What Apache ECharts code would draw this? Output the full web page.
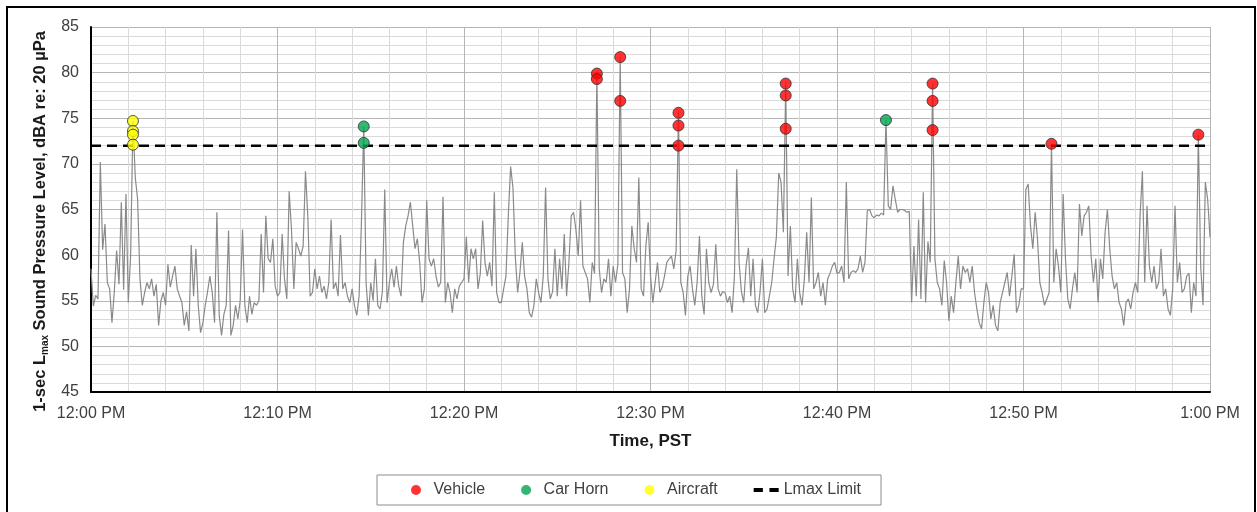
<!DOCTYPE html>
<html>
<head>
<meta charset="utf-8">
<script src="https://cdn.jsdelivr.net/npm/echarts@6/dist/echarts.min.js"></script>
<style>
  html, body { margin: 0; padding: 0; background: #fff; }
  #chart { width: 1257px; height: 512px; }
</style>
</head>
<body>
<div id="chart"></div>
<script>
// 1-second Lmax readings, 8 per minute (7.5 s apart), one array per 10-minute block
const lmax1200 = [
  58.5, 54.4, 55.6, 55.2, 70.2, 60.6, 63.4, 57.0,
  56.3, 52.6, 56.0, 60.5, 56.8, 65.8, 56.2, 66.7,
  54.8, 60.0, 74.7, 68.5, 66.1, 57.4, 54.5, 55.9,
  57.0, 56.3, 57.4, 55.5, 56.8, 52.3, 55.0, 55.9,
  54.5, 59.0, 56.5, 57.7, 58.8, 56.3, 55.5, 54.8,
  52.3, 53.8, 51.7, 61.1, 55.5, 60.7, 54.5, 51.5,
  52.6, 54.5, 56.0, 57.7, 55.9, 52.6, 64.7, 53.4,
  51.2, 53.5, 54.5, 62.7, 51.2, 52.3, 54.5, 53.0,
  55.0, 62.8, 54.5, 52.6, 55.5, 53.5, 54.8, 54.5,
  55.0, 62.3, 55.9, 64.3, 59.6, 59.2, 61.8, 56.6
];
const lmax1210 = [
  55.5, 55.9, 62.3, 57.4, 55.2, 67.0, 62.8, 56.3,
  61.4, 60.7, 59.9, 61.0, 69.2, 64.3, 55.5, 55.9,
  58.5, 56.3, 57.7, 55.9, 56.6, 55.2, 57.0, 63.9,
  56.3, 57.0, 55.5, 62.2, 56.3, 57.0, 55.5, 54.8,
  56.3, 54.5, 53.4, 55.5, 63.6, 74.1, 57.0, 53.4,
  57.0, 55.0, 59.6, 54.5, 54.1, 56.0, 67.2, 54.8,
  57.0, 58.5, 56.5, 58.8, 56.6, 55.5, 61.4, 63.2,
  64.3, 65.8, 63.2, 60.7, 61.8, 59.2, 54.8, 56.3,
  66.0, 59.6, 58.8, 59.6, 57.7, 56.5, 57.0, 66.4,
  54.8, 57.0, 55.9, 53.7, 56.3, 55.2, 56.6, 57.0
];
const lmax1220 = [
  57.4, 62.0, 57.0, 60.7, 59.6, 60.7, 56.3, 58.0,
  63.8, 59.2, 57.7, 59.2, 56.6, 66.9, 55.9, 54.8,
  54.8, 56.3, 57.7, 64.3, 69.7, 67.4, 59.9, 55.9,
  58.1, 61.4, 57.7, 56.3, 53.7, 53.2, 54.5, 57.4,
  55.9, 54.8, 57.7, 67.4, 57.4, 55.2, 56.0, 60.7,
  55.5, 59.6, 56.3, 62.3, 55.5, 59.2, 64.3, 64.7,
  62.8, 59.9, 66.0, 58.8, 58.1, 57.4, 54.8, 59.2,
  58.0, 79.9, 58.5, 55.9, 57.4, 57.0, 59.6, 55.5,
  58.8, 57.0, 59.0, 81.7, 58.1, 57.4, 53.7, 56.3,
  63.2, 60.7, 59.2, 68.5, 56.3, 55.5, 61.0, 63.6
];
const lmax1230 = [
  57.7, 54.8, 57.0, 59.2, 55.9, 56.5, 57.7, 59.2,
  59.6, 59.9, 58.5, 60.5, 75.6, 57.0, 55.9, 53.4,
  57.7, 58.8, 56.3, 54.5, 57.0, 62.1, 55.5, 53.5,
  60.7, 57.0, 55.9, 56.8, 61.2, 56.3, 55.5, 56.0,
  55.9, 54.8, 55.5, 53.7, 57.7, 69.4, 59.2, 56.0,
  54.8, 58.8, 60.8, 55.5, 59.6, 54.5, 53.7, 56.0,
  59.6, 53.7, 54.1, 55.5, 57.0, 59.6, 62.0, 69.0,
  68.0, 62.5, 78.8, 57.7, 63.2, 56.3, 54.8, 59.6,
  55.9, 54.5, 57.4, 62.5, 57.0, 66.3, 56.3, 57.0,
  58.1, 55.5, 57.0, 54.5, 57.4, 58.0, 58.8, 59.2
];
const lmax1240 = [
  58.0, 58.1, 58.8, 57.0, 68.0, 57.4, 58.1, 58.3,
  58.1, 58.5, 59.9, 58.1, 59.2, 64.9, 65.0, 64.3,
  64.1, 64.4, 64.3, 64.6, 64.4, 74.8, 65.4, 65.0,
  67.6, 66.1, 64.7, 65.0, 65.0, 64.9, 64.7, 64.8,
  54.8, 61.0, 55.5, 63.9, 55.2, 66.9, 54.8, 61.5,
  59.2, 78.8, 59.6, 57.0, 56.3, 54.5, 59.4, 57.0,
  52.8, 55.5, 53.7, 57.0, 59.9, 56.3, 58.8, 58.1,
  58.5, 57.0, 58.8, 55.9, 54.1, 52.6, 51.9, 54.8,
  57.0, 55.9, 53.0, 54.5, 52.3, 51.7, 54.8, 55.9,
  57.0, 58.1, 55.5, 57.7, 60.1, 53.7, 54.5, 56.3
];
const lmax1250 = [
  56.3, 67.2, 67.8, 63.2, 60.7, 64.7, 61.8, 57.0,
  55.9, 54.5, 55.2, 55.9, 72.2, 57.0, 60.7, 58.8,
  55.9, 66.7, 59.6, 55.2, 54.1, 56.3, 58.1, 55.9,
  65.6, 62.1, 64.3, 64.7, 65.4, 59.9, 57.0, 59.6,
  54.8, 59.6, 57.4, 62.5, 65.0, 60.7, 57.7, 56.3,
  57.0, 54.8, 54.1, 52.3, 54.8, 55.2, 54.1, 55.9,
  57.0, 55.9, 64.3, 69.2, 57.0, 65.4, 58.8, 57.0,
  58.8, 56.3, 57.0, 60.7, 55.5, 56.3, 54.1, 53.4,
  56.3, 65.4, 57.0, 59.2, 55.9, 56.3, 57.7, 58.0,
  53.7, 57.0, 55.5, 73.2, 58.8, 54.5, 68.0, 66.1,
  62.0
];
const samplesPerMinute = 8;

// Identified events (minutes after 12:00 PM, dBA)
const vehicleMinutes = [27.125, 27.125, 28.375, 28.375, 31.5, 31.5, 31.5, 37.25, 37.25, 37.25, 45.125, 45.125, 45.125, 51.5, 59.375];
const vehicleLevels  = [79.9, 79.3, 81.7, 76.9, 75.6, 74.2, 72.0, 78.8, 77.5, 73.85, 78.8, 76.9, 73.7, 72.2, 73.2];
const hornMinutes    = [14.625, 14.625, 42.625];
const hornLevels     = [74.1, 72.3, 74.8];
const aircraftMinutes = [2.25, 2.25, 2.25, 2.25];
const aircraftLevels  = [74.7, 73.6, 73.2, 72.1];

const lmaxLimit = 72;
const timeLabels = ['12:00 PM', '12:10 PM', '12:20 PM', '12:30 PM', '12:40 PM', '12:50 PM', '1:00 PM'];

const FONT = '"Liberation Sans", Arial, sans-serif';

const lmaxAll = [].concat(lmax1200, lmax1210, lmax1220, lmax1230, lmax1240, lmax1250);
const traceData = lmaxAll.map((v, i) => [i / samplesPerMinute, v]);
const pairs = (xs, ys) => xs.map((x, i) => [x, ys[i]]);

const chart = echarts.init(document.getElementById('chart'), null, { renderer: 'canvas' });

const markerStyle = (fill) => ({ color: fill, borderColor: '#303030', borderWidth: 1 });

chart.setOption({
  animation: false,
  backgroundColor: '#ffffff',
  textStyle: { fontFamily: FONT },
  graphic: [
    { type: 'rect', silent: true, shape: { x: 7, y: 7, width: 1248, height: 520 },
      style: { fill: 'none', stroke: '#000', lineWidth: 2 } }
  ],
  grid: { left: 91, right: 47, top: 27, bottom: 120 },
  legend: {
    left: 377, top: 475,
    padding: [7, 20, 7, 34],
    itemGap: 36,
    itemWidth: 25, itemHeight: 10,
    borderColor: '#8c8c8c', borderWidth: 1,
    textStyle: { fontSize: 16, color: '#404040', fontFamily: FONT },
    data: [
      { name: 'Vehicle', itemStyle: { borderWidth: 0 } },
      { name: 'Car Horn', itemStyle: { borderWidth: 0 } },
      { name: 'Aircraft', itemStyle: { borderWidth: 0 } },
      { name: 'Lmax Limit', icon: 'path://M0,0H7V3H0Z M12,0H19V3H12Z', itemStyle: { color: '#000', borderWidth: 0 } }
    ]
  },
  xAxis: {
    type: 'value', min: 0, max: 60, interval: 10,
    name: 'Time, PST', nameLocation: 'middle', nameGap: 41,
    nameTextStyle: { fontSize: 17, fontWeight: 'bold', color: '#1a1a1a', fontFamily: FONT },
    axisLine: { onZero: false, lineStyle: { color: '#000', width: 2 } },
    axisTick: { show: false },
    axisLabel: { margin: 14, fontSize: 16, color: '#404040', fontFamily: FONT,
      formatter: (v) => timeLabels[Math.round(v / 10)] || '' },
    splitLine: { show: true, lineStyle: { color: '#b5b5b5', width: 1 } },
    minorTick: { show: false, splitNumber: 5 },
    minorSplitLine: { show: true, lineStyle: { color: '#dadada', width: 1 } }
  },
  yAxis: {
    type: 'value', min: 45, max: 85, interval: 5,
    name: '{b|1-sec L}{s|max}{b| Sound Pressure Level, dBA re: 20 µPa}',
    nameLocation: 'middle', nameGap: 38, nameRotate: 90,
    nameTextStyle: {
      padding: [0, 24, 0, 0],
      rich: {
        b: { fontSize: 16.5, fontWeight: 'bold', color: '#1a1a1a', fontFamily: FONT, lineHeight: 20 },
        s: { fontSize: 10, fontWeight: 'bold', color: '#1a1a1a', fontFamily: FONT, lineHeight: 12, verticalAlign: 'bottom' }
      }
    },
    axisLine: { show: true, lineStyle: { color: '#000', width: 2 } },
    axisTick: { show: false },
    axisLabel: { margin: 12, fontSize: 16, color: '#404040', fontFamily: FONT },
    splitLine: { show: true, lineStyle: { color: '#b5b5b5', width: 1 } },
    minorTick: { show: false, splitNumber: 5 },
    minorSplitLine: { show: true, lineStyle: { color: '#dadada', width: 1 } }
  },
  series: [
    {
      name: '1-sec Lmax', type: 'line', data: traceData,
      showSymbol: false, symbol: 'none', silent: true, z: 2,
      lineStyle: { color: '#8a8a8a', width: 1.2 }
    },
    {
      name: 'Lmax Limit', type: 'line', data: [[0, lmaxLimit], [60, lmaxLimit]],
      symbol: 'none', silent: true, z: 3,
      itemStyle: { color: '#000' },
      lineStyle: { color: '#000', width: 2.5, type: [10, 6] }
    },
    {
      name: 'Vehicle', type: 'scatter', data: pairs(vehicleMinutes, vehicleLevels),
      symbolSize: 11, z: 5, itemStyle: markerStyle('#ff0000')
    },
    {
      name: 'Car Horn', type: 'scatter', data: pairs(hornMinutes, hornLevels),
      symbolSize: 11, z: 5, itemStyle: markerStyle('#00a550')
    },
    {
      name: 'Aircraft', type: 'scatter', data: pairs(aircraftMinutes, aircraftLevels),
      symbolSize: 11, z: 5, itemStyle: markerStyle('#ffff00')
    }
  ]
});
</script>
</body>
</html>
